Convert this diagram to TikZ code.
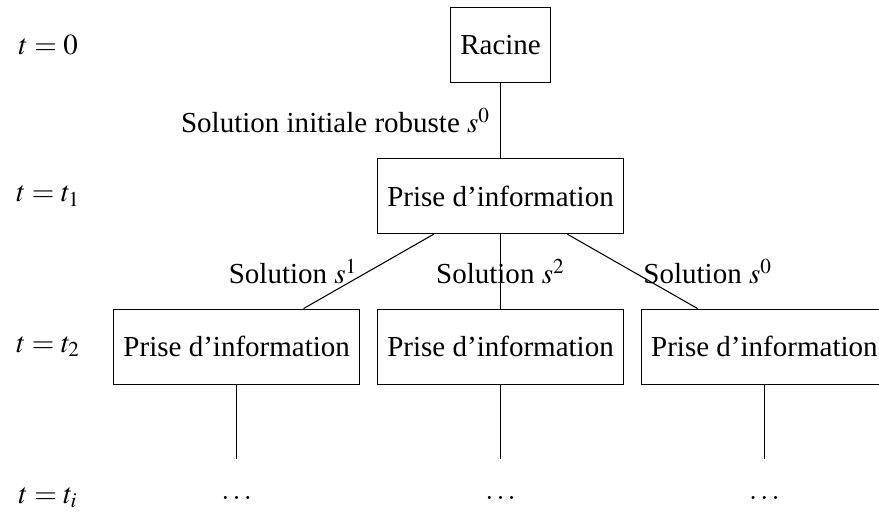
\documentclass[tikz,border=0pt,11pt]{standalone}
\usepackage{mathptmx}
\usepackage{fontspec}
\setmainfont{Liberation Serif}
\begin{document}
\begin{tikzpicture}[
    boite/.style={draw,
        rectangle,
        minimum height=1cm},
    vide/.style={minimum height=1cm}]
\useasboundingbox (-6.64,-6.18) rectangle (5.02,0.6);
% Racine
\node [boite] (racine) at (0,0){Racine};

% Premier niveau
\node [boite] (info) at (0,-2){Prise d’information};

% Second niveau
\node [boite] (infoA) at (-3.5,-4){Prise d’information};
\node [boite] (infoB) at (0,-4){Prise d’information};
\node [boite] (infoC) at (3.5,-4){Prise d’information};

% Suite
\node [vide] (suiteA) at (-3.5,-6){$\ldots$};
\node [vide] (suiteB) at (0,-6){$\ldots$};
\node [vide] (suiteC) at (3.5,-6){$\ldots$};

% Instants
\node [vide] (t0) at (-6,0){$t=0$};
\node [vide] (t1) at (-6,-2){$t=t_1$};
\node [vide] (t2) at (-6,-4){$t=t_2$};
\node [vide] (ti) at (-6,-6){$t=t_i$};

% Liens
\draw (racine) -- (info) node [midway, left] (sol0) {Solution initiale robuste $s^0$};
\draw (info) -- (infoA);
\draw (info) -- (infoB);
\draw (info) -- (infoC);
\draw (infoA) -- (suiteA);
\draw (infoB) -- (suiteB);
\draw (infoC) -- (suiteC);

% Solutions
\node (solA) at (-2.75,-3) {Solution $s^1$};
\node (solB) at (0,-3) {Solution $s^2$};
\node (solC) at (2.75,-3) {Solution $s^0$};
%\node at (0,-5) {$\vdots$};
\end{tikzpicture}
\end{document}
